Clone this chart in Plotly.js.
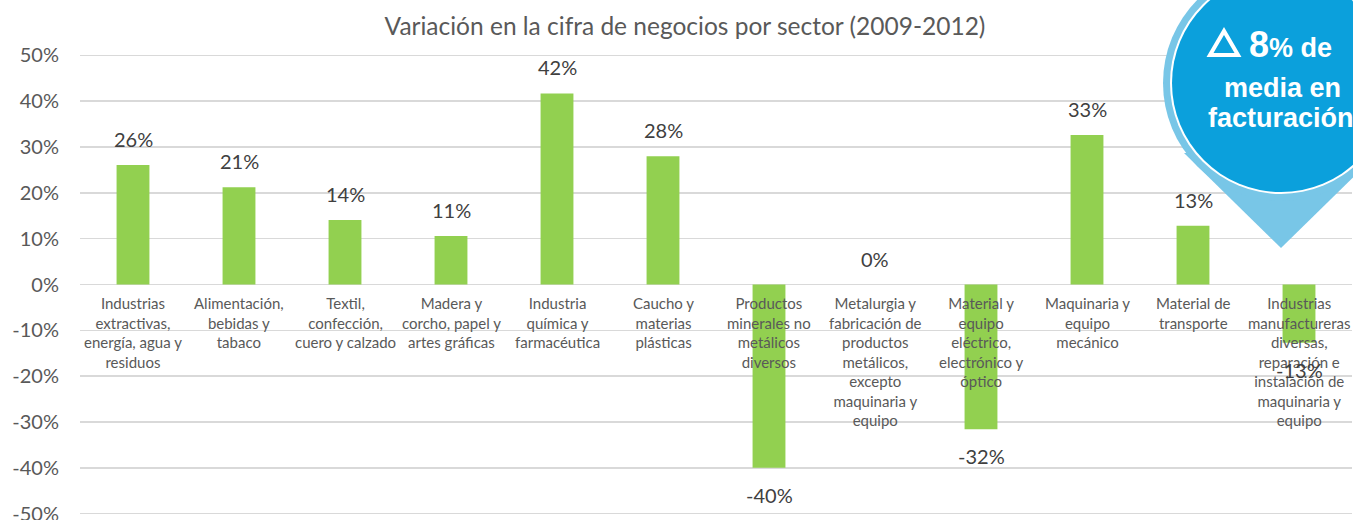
<!DOCTYPE html>
<html>
<head>
<meta charset="utf-8">
<script src="https://cdn.plot.ly/plotly-3.0.1.min.js"></script>
<style>html,body{margin:0;padding:0;background:#fff;}#chart{width:1353px;height:520px;}</style>
</head>
<body>
<div id="chart"></div>
<script>
// ---- data ----
const categories = [
  "Industrias<br>extractivas,<br>energía, agua y<br>residuos",
  "Alimentación,<br>bebidas y<br>tabaco",
  "Textil,<br>confección,<br>cuero y calzado",
  "Madera y<br>corcho, papel y<br>artes gráficas",
  "Industria<br>química y<br>farmacéutica",
  "Caucho y<br>materias<br>plásticas",
  "Productos<br>minerales no<br>metálicos<br>diversos",
  "Metalurgia y<br>fabricación de<br>productos<br>metálicos,<br>excepto<br>maquinaria y<br>equipo",
  "Material y<br>equipo<br>eléctrico,<br>electrónico y<br>óptico",
  "Maquinaria y<br>equipo<br>mecánico",
  "Material de<br>transporte",
  "Industrias<br>manufactureras<br>diversas,<br>reparación e<br>instalación de<br>maquinaria y<br>equipo"
];
const values = [26.1, 21.2, 14.1, 10.6, 41.7, 28.0, -40.0, 0, -31.6, 32.6, 12.8, -12.7];
const valueLabels = ["26%", "21%", "14%", "11%", "42%", "28%", "-40%", "0%", "-32%", "33%", "13%", "-13%"];
const yTickVals = [-50, -40, -30, -20, -10, 0, 10, 20, 30, 40, 50];
const yTickText = ["-50%", "-40%", "-30%", "-20%", "-10%", "0%", "10%", "20%", "30%", "40%", "50%"];
const titleText = "Variación en la cifra de negocios por sector (2009-2012)";
const calloutLines = ["<span style='font-size:36px'>8</span>% de", "media en", "facturación"];

// ---- layout helpers ----
const W = 1353, H = 520;
const M = {l: 80, r: 1, t: 54, b: 5};
const plotW = W - M.l - M.r, plotH = H - M.t - M.b;
const px2x = px => (px - M.l) / plotW;
const py2y = py => (H - M.b - py) / plotH;

const idx = categories.map((_, i) => i);

const trace = {
  type: 'bar',
  x: idx,
  y: values,
  marker: {color: '#92D050'},
  hoverinfo: 'skip'
};

const annotations = [];
// category labels just below zero line
categories.forEach((c, i) => {
  annotations.push({
    x: i, y: 0, xref: 'x', yref: 'y',
    text: c, showarrow: false,
    xanchor: 'center', yanchor: 'top', yshift: -7,
    font: {family: 'Lato, sans-serif', size: 15, color: '#595959'},
    align: 'center'
  });
});
// value labels
values.forEach((v, i) => {
  annotations.push({
    x: i, y: v, xref: 'x', yref: 'y',
    text: valueLabels[i], showarrow: false,
    xanchor: 'center', yanchor: 'middle', yshift: v >= 0 ? 26 : -27,
    font: {family: 'Lato, sans-serif', size: 20, color: '#404040'}
  });
});
// callout text
const cx = 1281, cy = 83;
const calloutY = [45, 88, 118];
const calloutX = [1290, 1282, 1281];
calloutLines.forEach((t, k) => {
  annotations.push({
    x: px2x(calloutX[k]), y: py2y(calloutY[k]), xref: 'paper', yref: 'paper',
    text: '<b>' + t + '</b>', showarrow: false,
    xanchor: 'center', yanchor: 'middle',
    font: {family: 'Liberation Sans, Arial, sans-serif', size: 27, color: '#ffffff'}
  });
});

const anchorX = px2x(cx), anchorY = py2y(cy);
const pxShape = (o) => Object.assign({
  xref: 'paper', yref: 'paper', xsizemode: 'pixel', ysizemode: 'pixel',
  xanchor: anchorX, yanchor: anchorY, layer: 'above'
}, o);
const shapes = [
  pxShape({type: 'path', path: 'M -97,-70 L 0,-165 L 97,-70 Z', fillcolor: '#78C6E7', line: {width: 0}}),
  pxShape({type: 'circle', x0: -118, x1: 118, y0: -118, y1: 118, fillcolor: '#78C6E7', line: {width: 0}}),
  pxShape({type: 'circle', x0: -111, x1: 111, y0: -111, y1: 111, fillcolor: '#ffffff', line: {width: 0}}),
  pxShape({type: 'circle', x0: -109, x1: 109, y0: -109, y1: 109, fillcolor: '#0BA0DC', line: {width: 0}}),
  pxShape({type: 'path', path: 'M -57,52 L -71,28 L -43,28 Z', fillcolor: 'rgba(0,0,0,0)', line: {color: '#ffffff', width: 4}})
];

const layout = {
  width: W, height: H,
  margin: M,
  paper_bgcolor: '#ffffff', plot_bgcolor: '#ffffff',
  showlegend: false,
  bargap: 0.69,
  title: {
    text: titleText,
    x: 685 / W, xref: 'container', xanchor: 'center',
    y: 1 - 26 / H, yref: 'container', yanchor: 'middle',
    font: {family: 'Lato, sans-serif', size: 24.5, color: '#595959'}
  },
  xaxis: {
    range: [-0.5, 11.5],
    showticklabels: false, showgrid: false, zeroline: false, showline: false, ticks: '',
    fixedrange: true
  },
  yaxis: {
    range: [-50.3, 50.3],
    tickvals: yTickVals, ticktext: yTickText,
    showgrid: true, gridcolor: '#D9D9D9', gridwidth: 1.5,
    zeroline: true, zerolinecolor: '#D9D9D9', zerolinewidth: 1.5,
    showline: false, ticks: '',
    ticklabelstandoff: 20,
    ticklabeloverflow: 'allow',
    tickfont: {family: 'Lato, sans-serif', size: 20, color: '#595959'},
    fixedrange: true
  },
  annotations: annotations,
  shapes: shapes
};

Plotly.newPlot('chart', [trace], layout, {displayModeBar: false, staticPlot: true});
</script>
</body>
</html>
